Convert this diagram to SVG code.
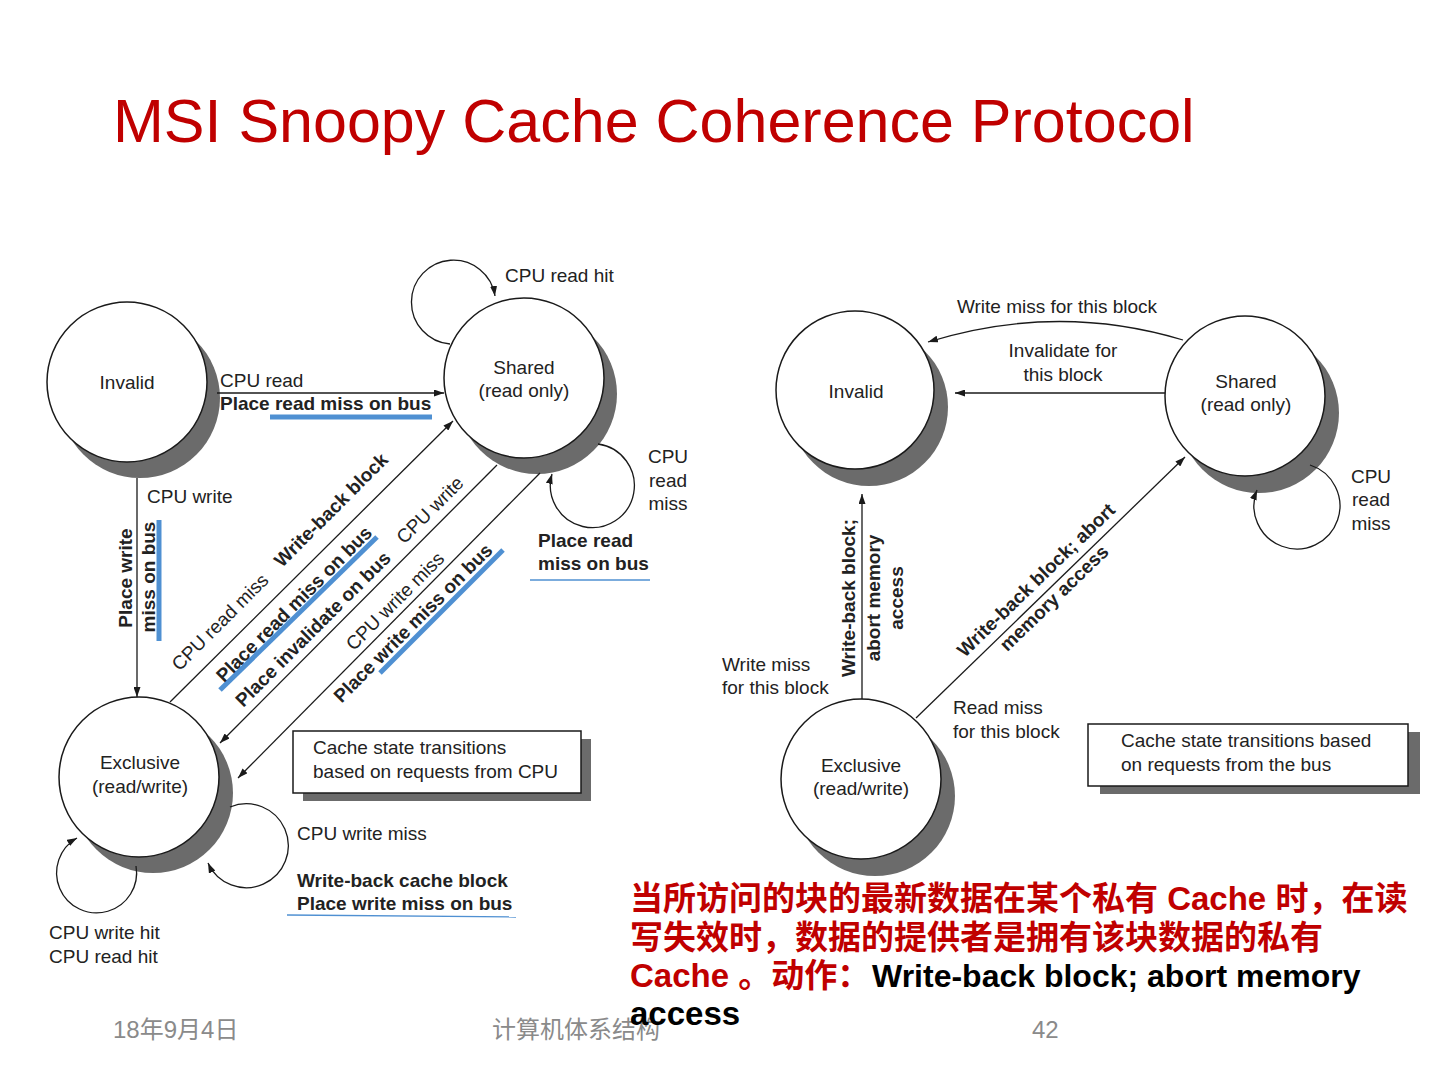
<svg xmlns="http://www.w3.org/2000/svg" width="1440" height="1080" viewBox="0 0 1440 1080">
  <defs>
    <marker id="ah" markerWidth="10" markerHeight="7" refX="10" refY="3.5" orient="auto" markerUnits="userSpaceOnUse">
      <path d="M0,0 L10,3.5 L0,7 z" fill="#1a1a1a"/>
    </marker>
  </defs>
  <style>
    .bg { fill: #ffffff; }
    .shadow { fill: #6b6b6b; }
    .state { fill: #ffffff; stroke: #1a1a1a; stroke-width: 1.5; }
    .edge { fill: none; stroke: #1a1a1a; stroke-width: 1.3; }
    .arr { marker-end: url(#ah); }
    .t { font-family: "Liberation Sans", Arial, sans-serif; font-size: 19px; fill: #222222; }
    .b { font-weight: bold; }
    .m { text-anchor: middle; }
    .cen { dominant-baseline: central; }
    .blue { stroke: #4f90d2; stroke-width: 5; fill: none; }
    .thinblue { stroke: #4f90d2; stroke-width: 1.3; fill: none; }
    .box { fill: #ffffff; stroke: #1a1a1a; stroke-width: 1.5; }
    .title { font-family: "Liberation Sans", Arial, sans-serif; font-size: 61px; fill: #c00000; }
    .foot { font-family: "Liberation Sans", "Noto Sans CJK SC", sans-serif; font-size: 24px; fill: #8a8a8a; }
    .note { font-family: "Liberation Sans", "Noto Sans CJK SC", sans-serif; font-size: 33px; font-weight: bold; fill: #c00000; }
    .noteblk { fill: #000000; }
  </style>

  <rect class="bg" x="0" y="0" width="1440" height="1080"/>

  <text class="title" x="113" y="142">MSI Snoopy Cache Coherence Protocol</text>

  <!-- Left diagram nodes -->
  <g id="l-invalid">
    <circle class="shadow" cx="140" cy="398" r="80"/>
    <circle class="state" cx="127" cy="382" r="80"/>
    <text class="t m" x="127" y="389">Invalid</text>
  </g>
  <g id="l-shared">
    <circle class="shadow" cx="537" cy="394" r="80"/>
    <circle class="state" cx="524" cy="378" r="80"/>
    <text class="t m" x="524" y="374">Shared</text>
    <text class="t m" x="524" y="397">(read only)</text>
  </g>
  <g id="l-exclusive">
    <circle class="shadow" cx="153" cy="793" r="80"/>
    <circle class="state" cx="139" cy="777" r="80"/>
    <text class="t m" x="140" y="769">Exclusive</text>
    <text class="t m" x="140" y="793">(read/write)</text>
  </g>
  <g id="l-legend">
    <rect class="shadow" x="303" y="739" width="288" height="62"/>
    <rect class="box" x="293" y="731" width="288" height="62"/>
    <text class="t" x="313" y="754">Cache state transitions</text>
    <text class="t" x="313" y="778">based on requests from CPU</text>
  </g>

  <!-- Right diagram nodes -->
  <g id="r-invalid">
    <circle class="shadow" cx="869" cy="407" r="79"/>
    <circle class="state" cx="855" cy="390" r="79"/>
    <text class="t m" x="856" y="398">Invalid</text>
  </g>
  <g id="r-shared">
    <circle class="shadow" cx="1259" cy="413" r="80"/>
    <circle class="state" cx="1245" cy="396" r="80"/>
    <text class="t m" x="1246" y="388">Shared</text>
    <text class="t m" x="1246" y="411">(read only)</text>
  </g>
  <g id="r-exclusive">
    <circle class="shadow" cx="875" cy="796" r="80"/>
    <circle class="state" cx="861" cy="779" r="80"/>
    <text class="t m" x="861" y="772">Exclusive</text>
    <text class="t m" x="861" y="795">(read/write)</text>
  </g>
  <g id="r-legend">
    <rect class="shadow" x="1100" y="732" width="320" height="62"/>
    <rect class="box" x="1088" y="724" width="320" height="62"/>
    <text class="t" x="1121" y="747">Cache state transitions based</text>
    <text class="t" x="1121" y="771">on requests from the bus</text>
  </g>

  <!-- Connectors -->
  <g id="connectors">
    <!-- left -->
    <line class="edge arr" x1="217" y1="393" x2="444" y2="393"/>
    <line class="edge arr" x1="137" y1="478" x2="137" y2="697"/>
    <line class="edge arr" x1="170" y1="702" x2="453" y2="421"/>
    <line class="edge arr" x1="497" y1="465" x2="220" y2="743"/>
    <line class="edge arr" x1="540" y1="473" x2="238" y2="778"/>
    <path class="edge arr" d="M 450 344 A 42 42 0 1 1 495 296"/>
    <path class="edge arr" d="M 598 444 A 42 42 0 1 1 552 474"/>
    <path class="edge arr" d="M 230 807 A 42 42 0 1 1 208 863"/>
    <path class="edge arr" d="M 136 866 A 40 40 0 1 1 77 838"/>
    <!-- right -->
    <path class="edge arr" d="M 1183 340 Q 1057 302 928 342"/>
    <line class="edge arr" x1="1165" y1="393" x2="955" y2="393"/>
    <line class="edge arr" x1="862" y1="699" x2="862" y2="494"/>
    <line class="edge arr" x1="916" y1="718" x2="1185" y2="457"/>
    <path class="edge arr" d="M 1310 465 A 43 43 0 1 1 1257 490"/>
  </g>

  <!-- Highlight underlines -->
  <g id="highlights">
    <line class="blue" x1="270" y1="417" x2="432" y2="417"/>
    <line class="blue" x1="159" y1="520" x2="159" y2="641"/>
    <line class="blue" x1="220" y1="690" x2="377" y2="537"/>
    <line class="blue" x1="380" y1="673" x2="503" y2="550"/>
    <line class="thinblue" x1="530" y1="580" x2="650" y2="580"/>
    <line class="thinblue" x1="287" y1="915" x2="516" y2="917"/>
  </g>

  <!-- Left labels -->
  <g id="l-labels">
    <text class="t" x="505" y="282">CPU read hit</text>
    <text class="t" x="220" y="387">CPU read</text>
    <text class="t b" x="220" y="410">Place read miss on bus</text>
    <text class="t" x="147" y="503">CPU write</text>
    <text class="t b m cen" transform="translate(125,578) rotate(-90)">Place write</text>
    <text class="t b m cen" transform="translate(148,577) rotate(-90)">miss on bus</text>
    <text class="t m cen" transform="translate(220,622) rotate(-45)">CPU read miss</text>
    <text class="t b m cen" transform="translate(331,510) rotate(-45)">Write-back block</text>
    <text class="t b m cen" transform="translate(294,604) rotate(-45)">Place read miss on bus</text>
    <text class="t b m cen" transform="translate(313,629) rotate(-45)">Place invalidate on bus</text>
    <text class="t m cen" transform="translate(430,510) rotate(-45)">CPU write</text>
    <text class="t m cen" transform="translate(395,601) rotate(-45)">CPU write miss</text>
    <text class="t b m cen" transform="translate(413,623) rotate(-45)">Place write miss on bus</text>
    <text class="t m" x="668" y="463">CPU</text>
    <text class="t m" x="668" y="487">read</text>
    <text class="t m" x="668" y="510">miss</text>
    <text class="t b" x="538" y="547">Place read</text>
    <text class="t b" x="538" y="570">miss on bus</text>
    <text class="t" x="297" y="840">CPU write miss</text>
    <text class="t b" x="297" y="887">Write-back cache block</text>
    <text class="t b" x="297" y="910">Place write miss on bus</text>
    <text class="t" x="49" y="939">CPU write hit</text>
    <text class="t" x="49" y="963">CPU read hit</text>
  </g>

  <!-- Right labels -->
  <g id="r-labels">
    <text class="t m" x="1057" y="313">Write miss for this block</text>
    <text class="t m" x="1063" y="357">Invalidate for</text>
    <text class="t m" x="1063" y="381">this block</text>
    <text class="t b m cen" transform="translate(848,598) rotate(-90)">Write-back block;</text>
    <text class="t b m cen" transform="translate(873,598) rotate(-90)">abort memory</text>
    <text class="t b m cen" transform="translate(896,598) rotate(-90)">access</text>
    <text class="t" x="722" y="671">Write miss</text>
    <text class="t" x="722" y="694">for this block</text>
    <text class="t b m cen" transform="translate(1036,580) rotate(-44)">Write-back block; abort</text>
    <text class="t b m cen" transform="translate(1054,598) rotate(-44)">memory access</text>
    <text class="t" x="953" y="714">Read miss</text>
    <text class="t" x="953" y="738">for this block</text>
    <text class="t m" x="1371" y="483">CPU</text>
    <text class="t m" x="1371" y="506">read</text>
    <text class="t m" x="1371" y="530">miss</text>
  </g>

  <!-- Footer -->
  <g id="footer">
    <text class="foot" x="113" y="1038">18年9月4日</text>
    <text class="foot" x="492" y="1038">计算机体系结构</text>
    <text class="foot" x="1032" y="1038">42</text>
  </g>

  <!-- Note -->
  <g id="note">
    <text class="note" x="630" y="910">当所访问的块的最新数据在某个私有 Cache 时，在读</text>
    <text class="note" x="630" y="949">写失效时，数据的提供者是拥有该块数据的私有</text>
    <text class="note" x="630" y="987">Cache 。动作： <tspan class="noteblk" x="872" font-size="32">Write-back block; abort memory</tspan></text>
    <text class="note noteblk" x="630" y="1025">access</text>
  </g>
</svg>
